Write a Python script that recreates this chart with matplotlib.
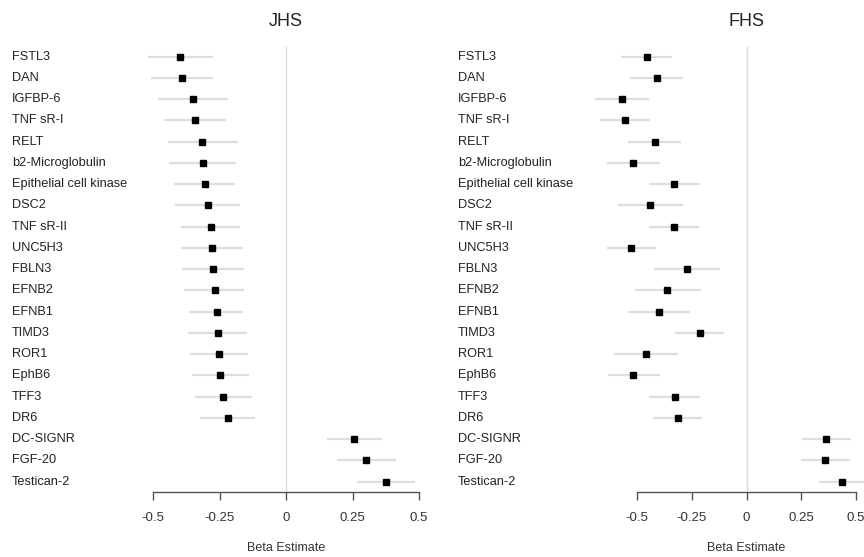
import numpy as np
import matplotlib.pyplot as plt
import matplotlib.transforms as mtrans

plt.rcParams['font.family'] = ['Liberation Sans', 'DejaVu Sans']

proteins = ['FSTL3', 'DAN', 'IGFBP-6', 'TNF sR-I', 'RELT', 'b2-Microglobulin',
            'Epithelial cell kinase', 'DSC2', 'TNF sR-II', 'UNC5H3', 'FBLN3',
            'EFNB2', 'EFNB1', 'TIMD3', 'ROR1', 'EphB6', 'TFF3', 'DR6',
            'DC-SIGNR', 'FGF-20', 'Testican-2']

# JHS estimates and CI
jhs_beta = [-0.398, -0.392, -0.352, -0.342, -0.316, -0.313, -0.307, -0.296, -0.283, -0.279, -0.276,
            -0.269, -0.262, -0.257, -0.253, -0.248, -0.237, -0.220, 0.256, 0.302, 0.377]
jhs_lo = [-0.519, -0.510, -0.484, -0.459, -0.445, -0.441, -0.422, -0.417, -0.396, -0.396, -0.391,
          -0.383, -0.366, -0.368, -0.362, -0.356, -0.342, -0.323, 0.153, 0.191, 0.267]
jhs_hi = [-0.277, -0.274, -0.218, -0.226, -0.183, -0.187, -0.192, -0.174, -0.174, -0.163, -0.160,
          -0.158, -0.162, -0.148, -0.144, -0.138, -0.129, -0.117, 0.362, 0.412, 0.486]

# FHS estimates and CI
fhs_beta = [-0.455, -0.408, -0.569, -0.554, -0.418, -0.516, -0.329, -0.441, -0.329, -0.526, -0.272,
            -0.361, -0.399, -0.214, -0.460, -0.516, -0.326, -0.315, 0.364, 0.359, 0.438]
fhs_lo = [-0.575, -0.530, -0.691, -0.668, -0.543, -0.635, -0.444, -0.586, -0.443, -0.639, -0.423,
          -0.508, -0.540, -0.326, -0.607, -0.632, -0.443, -0.425, 0.253, 0.247, 0.332]
fhs_hi = [-0.338, -0.288, -0.447, -0.441, -0.297, -0.394, -0.214, -0.292, -0.216, -0.412, -0.123,
          -0.208, -0.259, -0.103, -0.312, -0.394, -0.213, -0.202, 0.479, 0.472, 0.544]

ticks = [-0.5, -0.25, 0, 0.25, 0.5]
ticklabels = ['-0.5', '-0.25', '0', '0.25', '0.5']

W, H = 864, 557
fig = plt.figure(figsize=(W / 100, H / 100), dpi=100)

panels = [
    ('JHS', jhs_beta, jhs_lo, jhs_hi, 153.3, 419.0, 12),
    ('FHS', fhs_beta, fhs_lo, fhs_hi, 637.0, 856.0, 458),
]
top_px, bot_px = 46.7, 491.5
n = len(proteins)
y = np.arange(n)

for title, beta, lo, hi, x0, x1, lab_x in panels:
    ax = fig.add_axes([x0 / W, 1 - bot_px / H, (x1 - x0) / W, (bot_px - top_px) / H])
    ax.set_xlim(-0.5, 0.5)
    ax.set_ylim(n - 1 + 0.47, -0.47)
    ax.axvline(0, color='#d9d9d9', lw=1.0, zorder=1)
    ax.hlines(y, lo, hi, color='#dedede', lw=1.6, zorder=2, clip_on=False)
    ax.plot(beta, y, 's', color='black', markersize=4, zorder=3, clip_on=False)
    for s in ['top', 'right', 'left']:
        ax.spines[s].set_visible(False)
    ax.spines['bottom'].set_color('#555555')
    ax.spines['bottom'].set_linewidth(1.0)
    ax.set_yticks([])
    ax.set_xticks(ticks)
    ax.set_xticklabels(ticklabels, fontsize=9.5, color='#333333')
    ax.tick_params(axis='x', direction='out', length=6, width=1.0, color='#555555', pad=8.5)
    ax.patch.set_alpha(0)

    tr = mtrans.blended_transform_factory(fig.transFigure, ax.transData)
    for i, p in enumerate(proteins):
        ax.text(lab_x / W, i, p, transform=tr, ha='left', va='center', fontsize=9.2, color='#222222')

    cx = (x0 + x1) / 2 / W
    fig.text(cx, 1 - 21 / H, title, ha='center', va='center', fontsize=13, color='#222222')
    fig.text(cx, 1 - 548 / H, 'Beta Estimate', ha='center', va='center', fontsize=9, color='#333333')

fig.savefig('out.png', dpi=100)
